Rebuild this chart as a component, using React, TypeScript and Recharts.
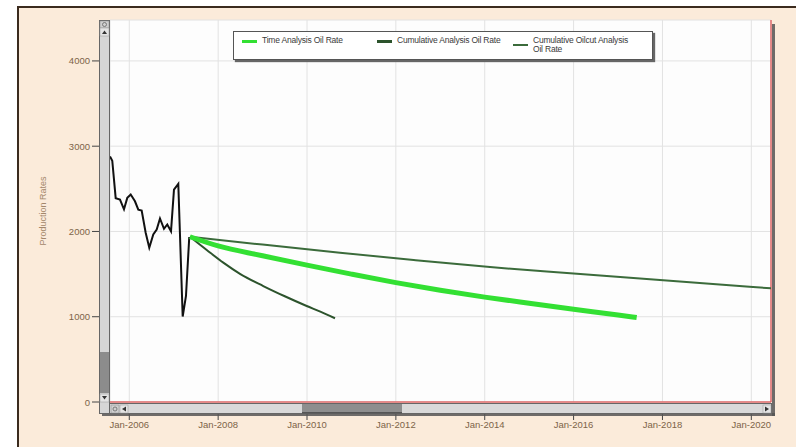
import React from 'react';
import { LineChart, Line, XAxis, YAxis, CartesianGrid, ReferenceLine, Legend } from 'recharts';

// Historical oil rate (decimal years, rates)
const histYears = [2005.566, 2005.617, 2005.694, 2005.791, 2005.881, 2005.955, 2006.032, 2006.128, 2006.203, 2006.279, 2006.369, 2006.45, 2006.54, 2006.617, 2006.691, 2006.781, 2006.855, 2006.939, 2007.006, 2007.103, 2007.202, 2007.276, 2007.35];
const histRates = [2880, 2830, 2390, 2374, 2260, 2394, 2433, 2354, 2255, 2245, 1985, 1810, 1965, 2023, 2152, 2031, 2082, 2003, 2491, 2558, 1002, 1243, 1935];

// Time Analysis Oil Rate
const timeYears = [2007.366, 2008, 2009, 2010, 2011, 2012, 2013, 2014, 2015, 2016, 2017, 2017.42];
const timeRates = [1938, 1830, 1715, 1605, 1500, 1400, 1310, 1230, 1158, 1088, 1020, 990];

// Cumulative Analysis Oil Rate
const cumYears = [2007.366, 2007.75, 2008.116, 2008.5, 2009.016, 2009.5, 2009.993, 2010.3, 2010.63];
const cumRates = [1938, 1780, 1634, 1500, 1360, 1240, 1126, 1060, 982];

// Cumulative Oilcut Analysis Oil Rate
const oilcutYears = [2007.366, 2009, 2010.742, 2012.4, 2014.118, 2016, 2017.72, 2020.443];
const oilcutRates = [1938, 1846, 1751, 1665, 1582, 1507, 1439, 1333];

const seriesNames = ['Time Analysis Oil Rate', 'Cumulative Analysis Oil Rate', 'Cumulative Oilcut Analysis Oil Rate'];
const xTicks = [2006, 2008, 2010, 2012, 2014, 2016, 2018, 2020];
const yTicks = [0, 1000, 2000, 3000, 4000];
const xDomain = [2005.566, 2020.443];
const yDomain = [0, 4480];

const toSeries = (ts: number[], vs: number[]) => ts.map((t, i) => ({ t, v: vs[i] }));
const histData = toSeries(histYears, histRates);
const timeData = toSeries(timeYears, timeRates);
const cumData = toSeries(cumYears, cumRates);
const oilcutData = toSeries(oilcutYears, oilcutRates);

const FONT = '"Liberation Sans", Arial, sans-serif';
const LABEL_COLOR = '#7d6448';

const YTick = (props: any) => {
  const { x, y, payload } = props;
  return (
    <g>
      <line x1={x - 18} x2={x - 11} y1={y} y2={y} stroke="#444" strokeWidth={1} />
      <text x={x - 20} y={y} dy={3.5} textAnchor="end" fontSize={9.5} fontFamily={FONT} fill={LABEL_COLOR}>
        {payload.value}
      </text>
    </g>
  );
};

const XTick = (props: any) => {
  const { x, y, payload } = props;
  return (
    <g>
      <line x1={x} x2={x} y1={y + 11} y2={y + 18} stroke="#444" strokeWidth={1} />
      <text x={x} y={y + 26} textAnchor="middle" fontSize={9.5} fontFamily={FONT} fill={LABEL_COLOR}>
        {'Jan-' + payload.value}
      </text>
    </g>
  );
};

const YTitle = (props: any) => {
  const vb = props.viewBox || {};
  const cx = (vb.x || 0) + 46;
  const cy = (vb.y || 0) + (vb.height || 0) / 2;
  return (
    <text x={cx} y={cy} transform={`rotate(-90, ${cx}, ${cy})`} textAnchor="middle" fontSize={9} fontFamily={FONT} fill="#a3876a">
      Production Rates
    </text>
  );
};

const LegendBox = (props: any) => {
  const payload = (props.payload || [])
    .filter((p: any) => seriesNames.indexOf(p.value) >= 0)
    .sort((a: any, b: any) => seriesNames.indexOf(a.value) - seriesNames.indexOf(b.value));
  const slots = [
    { lx: 8, tx: 28, ly: 9, w: 115, h: 2.5 },
    { lx: 143, tx: 163, ly: 9, w: 120, h: 2.5 },
    { lx: 279, tx: 299, ly: 13, w: 104, h: 2 },
  ];
  return (
    <div style={{ position: 'relative', width: 418, height: 27, background: '#fff', border: '1px solid #555', boxShadow: '2px 2px 1px #666', fontFamily: FONT, fontSize: 8.5, color: '#3a3a3a', letterSpacing: -0.2 }}>
      {payload.map((p: any, i: number) => {
        const s = slots[i] || slots[0];
        return (
          <React.Fragment key={i}>
            <div style={{ position: 'absolute', left: s.lx, top: s.ly - 1, width: 15, height: s.h, background: p.color }} />
            <div style={{ position: 'absolute', left: s.tx, top: 3.5, width: s.w, lineHeight: '9.5px' }}>{p.value}</div>
          </React.Fragment>
        );
      })}
    </div>
  );
};

const Decor = () => (
  <svg width={796} height={447} style={{ position: 'absolute', left: 0, top: 0, pointerEvents: 'none' }}>
    <rect x={772} y={24} width={3} height={392} fill="#555" opacity={0.85} />
    <rect x={102} y={413} width={673} height={3} fill="#555" opacity={0.85} />
    <rect x={99.5} y={20.5} width={10} height={393} fill="#d6d6d6" stroke="#666" strokeWidth={1} />
    <rect x={100} y={21} width={9} height={7} fill="#cfcfcf" stroke="#888" strokeWidth={0.5} />
    <circle cx={104.5} cy={24.5} r={2} fill="none" stroke="#666" strokeWidth={0.8} />
    <rect x={100} y={28} width={9} height={8} fill="#e4e4e4" stroke="#999" strokeWidth={0.5} />
    <path d="M102,34 L107,34 L104.5,30.5 Z" fill="#333" />
    <rect x={100} y={352} width={9} height={41} fill="#8c8c8c" />
    <rect x={100} y={394} width={9} height={8} fill="#e4e4e4" stroke="#999" strokeWidth={0.5} />
    <path d="M102,396 L107,396 L104.5,399.5 Z" fill="#333" />
    <rect x={109.5} y={403.5} width={662} height={10} fill="#d9d9d9" stroke="#666" strokeWidth={1} />
    <rect x={111} y={405} width={8} height={8} fill="#cfcfcf" stroke="#888" strokeWidth={0.5} />
    <circle cx={115} cy={409} r={2} fill="none" stroke="#666" strokeWidth={0.8} />
    <rect x={120} y={405} width={8} height={8} fill="#e4e4e4" stroke="#999" strokeWidth={0.5} />
    <path d="M122,409 L126,406.5 L126,411.5 Z" fill="#333" />
    <rect x={302} y={404} width={100} height={9} fill="#8e8e8e" />
    <rect x={302} y={412} width={100} height={1.5} fill="#555" />
    <rect x={763} y={405} width={8} height={8} fill="#e4e4e4" stroke="#999" strokeWidth={0.5} />
    <path d="M769,409 L765,406.5 L765,411.5 Z" fill="#333" />
  </svg>
);

export default function App() {
  return (
    <div style={{ position: 'absolute', left: 0, top: 0, width: 796, height: 447, background: '#fff', overflow: 'hidden' }}>
      <div style={{ position: 'absolute', left: 17, top: 6, right: 0, bottom: 0, background: '#fbebda', borderLeft: '2px solid #3b2b1e', borderTop: '2px solid #3b2b1e' }} />
      <div style={{ position: 'absolute', left: 0, top: 0 }}>
        <LineChart width={796} height={447} margin={{ top: 20, right: 25, bottom: 0, left: 0 }}>
          <CartesianGrid stroke="#e2e2e2" fill="#fdfdfd" />
          <XAxis
            type="number"
            dataKey="t"
            domain={xDomain}
            ticks={xTicks}
            allowDataOverflow
            height={45}
            tickSize={0}
            tickMargin={0}
            axisLine={false}
            tickLine={false}
            tick={<XTick />}
            interval={0}
          />
          <YAxis
            type="number"
            domain={yDomain}
            ticks={yTicks}
            allowDataOverflow
            width={110}
            tickSize={0}
            tickMargin={0}
            axisLine={false}
            tickLine={false}
            tick={<YTick />}
            interval={0}
            label={{ content: <YTitle /> }}
          />
          <ReferenceLine y={0} stroke="#e06a6a" strokeWidth={1.5} ifOverflow="visible" />
          <ReferenceLine x={xDomain[1]} stroke="#e06a6a" strokeWidth={1.5} ifOverflow="visible" />
          <Legend
            verticalAlign="middle"
            align="center"
            layout="horizontal"
            wrapperStyle={{ left: 233, top: 31, width: 420, height: 29 }}
            content={<LegendBox />}
          />
          <Line data={histData} dataKey="v" type="linear" stroke="#111" strokeWidth={2} dot={false} isAnimationActive={false} legendType="none" name="hist" />
          <Line data={oilcutData} dataKey="v" type="monotone" stroke="#3b6b3b" strokeWidth={2} dot={false} isAnimationActive={false} name={seriesNames[2]} legendType="line" />
          <Line data={cumData} dataKey="v" type="monotone" stroke="#2c532c" strokeWidth={2} dot={false} isAnimationActive={false} name={seriesNames[1]} legendType="line" />
          <Line data={timeData} dataKey="v" type="monotone" stroke="#33e033" strokeWidth={5} dot={false} isAnimationActive={false} name={seriesNames[0]} legendType="line" />
        </LineChart>
      </div>
      <Decor />
    </div>
  );
}
